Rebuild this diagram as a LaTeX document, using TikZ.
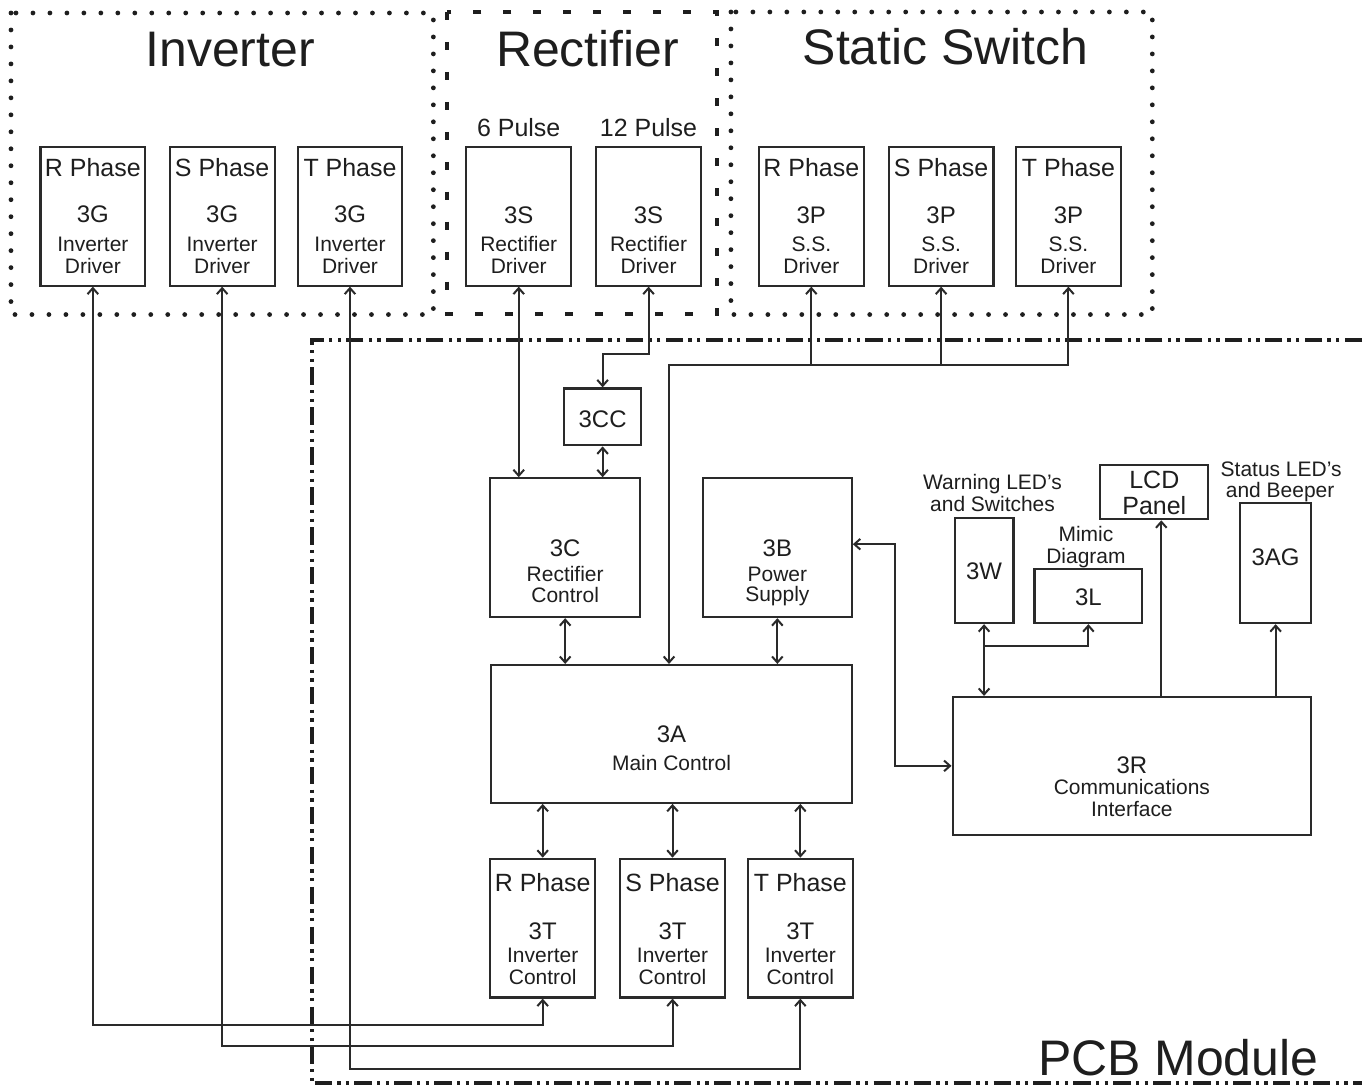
\documentclass[tikz,border=0pt]{standalone}
\usepackage{fontspec}
\setmainfont{Liberation Sans}
\usepackage{xcolor}
\usepackage{tikz}
\usetikzlibrary{arrows.meta}
\definecolor{tinta}{HTML}{1E1E1E}
\definecolor{trazo}{HTML}{2A2A2A}

\begin{document}
\begin{tikzpicture}[x=0.75pt, y=-0.75pt,
    box/.style 2 args={draw=trazo, line width=1.6pt, minimum width=#1*0.75pt, minimum height=#2*0.75pt, inner sep=0pt},
    txt/.style={text=tinta, inner sep=0pt, anchor=base},
    ttl/.style={txt, font=\fontsize{37.5}{40}\selectfont},
    phs/.style={txt, font=\fontsize{18.75}{20}\selectfont},
    code/.style={txt, font=\fontsize{18}{20}\selectfont},
    desc/.style={txt, font=\fontsize{15.75}{17}\selectfont},
    wire/.style={draw=trazo, line width=1.5pt, >={Straight Barb[length=4.5pt, width=8pt]}},
    dots/.style={draw=tinta, line width=3.6pt, line cap=round, dash pattern=on 0pt off 12.75pt},
    dashes/.style={draw=tinta, line width=3pt, dash pattern=on 6pt off 16.5pt},
    dashdots/.style={draw=tinta, line width=3pt, dash pattern=on 13pt off 4pt on 2.5pt off 4pt on 2.5pt off 4pt}]
    \fill[white] (0,0) rectangle (1364,1088);

    \draw[dots] (11,13) rectangle (434,315);
    \draw[dashes] (448,12) rectangle (718,314);
    \draw[dots] (732,12) rectangle (1154,315);
    \draw[dashdots] (1364,340) -- (312,340) -- (312,1085) -- (1364,1085);

    \node[ttl] (tInv) at (230.5,67) {Inverter};
    \node[ttl] (tRec) at (588.5,67) {Rectifier};
    \node[ttl] (tSw) at (947,65) {Static Switch};
    \node[ttl] (tPcb) at (1180,1077) {PCB Module};

    \foreach \p/\cx in {R/93, S/222.5, T/350.5} {
      \node[box={105}{139}] (iv\p) at (\cx,216.5) {};
      \node[phs] (iv\p-a) at (\cx,177) {\p{} Phase};
      \node[code] (iv\p-b) at (\cx,223) {3G};
      \node[desc] (iv\p-c) at (\cx,252) {Inverter};
      \node[desc] (iv\p-d) at (\cx,274) {Driver};
    }
    \foreach \n/\cx in {6/519.5, 12/649.5} {
      \node[box={105}{139}] (rc\n) at (\cx,216.5) {};
      \node[phs] (rc\n-a) at (\cx,137) {\n{} Pulse};
      \node[code] (rc\n-b) at (\cx,224) {3S};
      \node[desc] (rc\n-c) at (\cx,252) {Rectifier};
      \node[desc] (rc\n-d) at (\cx,274) {Driver};
    }
    \foreach \p/\cx in {R/812.5, S/942.5, T/1070} {
      \node[box={105}{139}] (ss\p) at (\cx,216.5) {};
      \node[phs] (ss\p-a) at (\cx,177) {\p{} Phase};
      \node[code] (ss\p-b) at (\cx,224) {3P};
      \node[desc] (ss\p-c) at (\cx,252) {S.S.};
      \node[desc] (ss\p-d) at (\cx,274) {Driver};
    }

    \node[box={77}{57}] (cc) at (603.5,417.5) {};
    \node[code] (cc-a) at (603.5,428) {3CC};
    \node[box={150}{139}] (rctl) at (566,548.5) {};
    \node[code] (rctl-a) at (566,557) {3C};
    \node[desc] (rctl-b) at (566,582) {Rectifier};
    \node[desc] (rctl-c) at (566,603) {Control};
    \node[box={149}{139}] (psu) at (778.5,548.5) {};
    \node[code] (psu-a) at (778.5,557) {3B};
    \node[desc] (psu-b) at (778.5,582) {Power};
    \node[desc] (psu-c) at (778.5,602) {Supply};
    \node[box={361}{138}] (mainctl) at (672.5,735) {};
    \node[code] (mainctl-a) at (672.5,744) {3A};
    \node[desc] (mainctl-b) at (672.5,772) {Main Control};
    \foreach \p/\cx in {R/543.5, S/673.5, T/801.5} {
      \node[box={105}{139}] (ic\p) at (\cx,929.5) {};
      \node[phs] (ic\p-a) at (\cx,893) {\p{} Phase};
      \node[code] (ic\p-b) at (\cx,941) {3T};
      \node[desc] (ic\p-c) at (\cx,964) {Inverter};
      \node[desc] (ic\p-d) at (\cx,986) {Control};
    }

    \node[box={59}{105}] (warn) at (985.5,571.5) {};
    \node[code] (warn-a) at (985.5,580) {3W};
    \node[desc] (warn-b) at (994,490) {Warning LED's};
    \node[desc] (warn-c) at (994,512) {and Switches};
    \node[box={108}{54}] (mimic) at (1090,597) {};
    \node[code] (mimic-a) at (1090,606) {3L};
    \node[desc] (mimic-b) at (1087.5,542) {Mimic};
    \node[desc] (mimic-c) at (1087.5,564) {Diagram};
    \node[box={108}{54}] (lcd) at (1156,493) {};
    \node[phs] (lcd-a) at (1156,489) {LCD};
    \node[phs] (lcd-b) at (1156,515) {Panel};
    \node[box={71}{120}] (stat) at (1277.5,564) {};
    \node[code] (stat-a) at (1277.5,566) {3AG};
    \node[desc] (stat-b) at (1283,477) {Status LED's};
    \node[desc] (stat-c) at (1282,498) {and Beeper};
    \node[box={359}{138}] (comm) at (1133.5,767) {};
    \node[code] (comm-a) at (1133.5,775) {3R};
    \node[desc] (comm-b) at (1133.5,796) {Communications};
    \node[desc] (comm-c) at (1133.5,818) {Interface};

    \foreach \p/\yy in {R/1026, S/1048, T/1071}
      \draw[wire, <->] (iv\p.south) -- (iv\p.south |- 0,\yy) -| (ic\p.south);
    \draw[wire, <->] (rc6.south) -- (rctl.north -| rc6.south);
    \draw[wire, <->] (rc12.south) -- (rc12.south |- 0,355) -| (cc.north);
    \draw[wire, <->] (cc.south) -- (rctl.north -| cc.south);
    \draw[wire, <->] (ssT.south) -- (ssT.south |- 0,366) -| (mainctl.north -| 670,0);
    \foreach \p in {R,S}
      \draw[wire, <-] (ss\p.south) -- (ss\p.south |- 0,366);
    \draw[wire, <->] (rctl.south) -- (mainctl.north -| rctl.south);
    \draw[wire, <->] (psu.south) -- (mainctl.north -| psu.south);
    \foreach \p in {R,S,T}
      \draw[wire, <->] (mainctl.south -| ic\p.north) -- (ic\p.north);
    \draw[wire, <->] (psu.east |- 0,545) -| (comm.west -| 896,0) -- (comm.west);
    \draw[wire, <->] (warn.south) -- (comm.north -| warn.south);
    \draw[wire, ->] (warn.south |- 0,647) -| (mimic.south);
    \draw[wire, ->] (comm.north -| 1163,0) -- (lcd.south -| 1163,0);
    \draw[wire, ->] (comm.north -| stat.south) -- (stat.south);
  \end{tikzpicture}
\end{document}
